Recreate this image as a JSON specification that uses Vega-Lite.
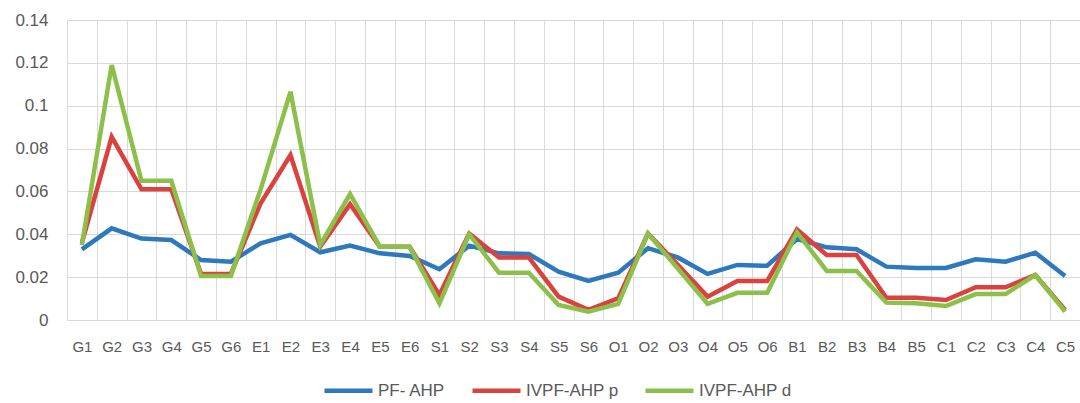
{
  "$schema": "https://vega.github.io/schema/vega-lite/v6.json",
  "autosize": "none",
  "width": 1013,
  "height": 300,
  "padding": {"left": 67, "top": 20, "right": 0, "bottom": 83},
  "background": "white",
  "data": {"values": [
    {"c": "G1", "PF- AHP": 0.033, "IVPF-AHP p": 0.036, "IVPF-AHP d": 0.035},
    {"c": "G2", "PF- AHP": 0.0428, "IVPF-AHP p": 0.0855, "IVPF-AHP d": 0.119},
    {"c": "G3", "PF- AHP": 0.038, "IVPF-AHP p": 0.061, "IVPF-AHP d": 0.065},
    {"c": "G4", "PF- AHP": 0.0373, "IVPF-AHP p": 0.061, "IVPF-AHP d": 0.065},
    {"c": "G5", "PF- AHP": 0.028, "IVPF-AHP p": 0.0215, "IVPF-AHP d": 0.0205},
    {"c": "G6", "PF- AHP": 0.0272, "IVPF-AHP p": 0.0215, "IVPF-AHP d": 0.0205},
    {"c": "E1", "PF- AHP": 0.0358, "IVPF-AHP p": 0.0545, "IVPF-AHP d": 0.061},
    {"c": "E2", "PF- AHP": 0.0397, "IVPF-AHP p": 0.077, "IVPF-AHP d": 0.1065},
    {"c": "E3", "PF- AHP": 0.0316, "IVPF-AHP p": 0.0342, "IVPF-AHP d": 0.035},
    {"c": "E4", "PF- AHP": 0.0347, "IVPF-AHP p": 0.054, "IVPF-AHP d": 0.0588},
    {"c": "E5", "PF- AHP": 0.0311, "IVPF-AHP p": 0.0342, "IVPF-AHP d": 0.0342},
    {"c": "E6", "PF- AHP": 0.0299, "IVPF-AHP p": 0.0342, "IVPF-AHP d": 0.0342},
    {"c": "S1", "PF- AHP": 0.0237, "IVPF-AHP p": 0.0117, "IVPF-AHP d": 0.0078},
    {"c": "S2", "PF- AHP": 0.0347, "IVPF-AHP p": 0.0404, "IVPF-AHP d": 0.04},
    {"c": "S3", "PF- AHP": 0.0311, "IVPF-AHP p": 0.0292, "IVPF-AHP d": 0.0221},
    {"c": "S4", "PF- AHP": 0.0308, "IVPF-AHP p": 0.0292, "IVPF-AHP d": 0.0221},
    {"c": "S5", "PF- AHP": 0.0226, "IVPF-AHP p": 0.0109, "IVPF-AHP d": 0.007},
    {"c": "S6", "PF- AHP": 0.0182, "IVPF-AHP p": 0.0047, "IVPF-AHP d": 0.0039},
    {"c": "O1", "PF- AHP": 0.0221, "IVPF-AHP p": 0.0101, "IVPF-AHP d": 0.0075},
    {"c": "O2", "PF- AHP": 0.0335, "IVPF-AHP p": 0.0404, "IVPF-AHP d": 0.0404},
    {"c": "O3", "PF- AHP": 0.0292, "IVPF-AHP p": 0.0258, "IVPF-AHP d": 0.024},
    {"c": "O4", "PF- AHP": 0.0215, "IVPF-AHP p": 0.0109, "IVPF-AHP d": 0.0075},
    {"c": "O5", "PF- AHP": 0.0257, "IVPF-AHP p": 0.0182, "IVPF-AHP d": 0.0127},
    {"c": "O6", "PF- AHP": 0.0253, "IVPF-AHP p": 0.0182, "IVPF-AHP d": 0.0127},
    {"c": "B1", "PF- AHP": 0.0378, "IVPF-AHP p": 0.0423, "IVPF-AHP d": 0.0409},
    {"c": "B2", "PF- AHP": 0.0339, "IVPF-AHP p": 0.0303, "IVPF-AHP d": 0.0229},
    {"c": "B3", "PF- AHP": 0.033, "IVPF-AHP p": 0.0303, "IVPF-AHP d": 0.0229},
    {"c": "B4", "PF- AHP": 0.0249, "IVPF-AHP p": 0.0104, "IVPF-AHP d": 0.0081},
    {"c": "B5", "PF- AHP": 0.0243, "IVPF-AHP p": 0.0104, "IVPF-AHP d": 0.0078},
    {"c": "C1", "PF- AHP": 0.0243, "IVPF-AHP p": 0.0093, "IVPF-AHP d": 0.0065},
    {"c": "C2", "PF- AHP": 0.0283, "IVPF-AHP p": 0.0153, "IVPF-AHP d": 0.0121},
    {"c": "C3", "PF- AHP": 0.0272, "IVPF-AHP p": 0.0153, "IVPF-AHP d": 0.0121},
    {"c": "C4", "PF- AHP": 0.0314, "IVPF-AHP p": 0.021, "IVPF-AHP d": 0.021},
    {"c": "C5", "PF- AHP": 0.0205, "IVPF-AHP p": 0.0047, "IVPF-AHP d": 0.0039}
  ]},
  "transform": [
    {"fold": ["PF- AHP", "IVPF-AHP p", "IVPF-AHP d"], "as": ["series", "value"]}
  ],
  "mark": {"type": "line", "strokeWidth": 4.5, "strokeJoin": "miter", "strokeCap": "butt"},
  "encoding": {
    "x": {
      "field": "c", "type": "nominal", "sort": null, "bandPosition": 0.5,
      "scale": {"type": "band", "paddingInner": 0, "paddingOuter": 0},
      "axis": {
        "title": null, "labelAngle": 0, "tickBand": "extent", "grid": true,
        "gridColor": "#d9d9d9", "ticks": false, "domainColor": "#d9d9d9",
        "labelPadding": 19, "labelFont": "Liberation Sans",
        "labelFontSize": 15, "labelColor": "#595959"
      }
    },
    "y": {
      "field": "value", "type": "quantitative",
      "scale": {"domain": [0, 0.14], "nice": false},
      "axis": {
        "title": null, "values": [0, 0.02, 0.04, 0.06, 0.08, 0.1, 0.12, 0.14],
        "format": "~g", "grid": true, "gridColor": "#d9d9d9", "domain": false,
        "ticks": false, "labelPadding": 19, "labelFont": "Liberation Sans",
        "labelFontSize": 17, "labelColor": "#595959"
      }
    },
    "color": {
      "field": "series", "type": "nominal",
      "scale": {"domain": ["PF- AHP", "IVPF-AHP p", "IVPF-AHP d"], "range": ["#2e78bd", "#d9423f", "#8cc04a"]},
      "legend": {
        "title": null, "orient": "none", "direction": "horizontal",
        "legendX": 255, "legendY": 344,
        "symbolType": "stroke", "symbolSize": 2304, "symbolStrokeWidth": 4.5,
        "labelOffset": 3, "columnPadding": 17,
        "labelFont": "Liberation Sans", "labelFontSize": 17,
        "labelColor": "#595959"
      }
    }
  },
  "config": {"view": {"stroke": null}}
}
